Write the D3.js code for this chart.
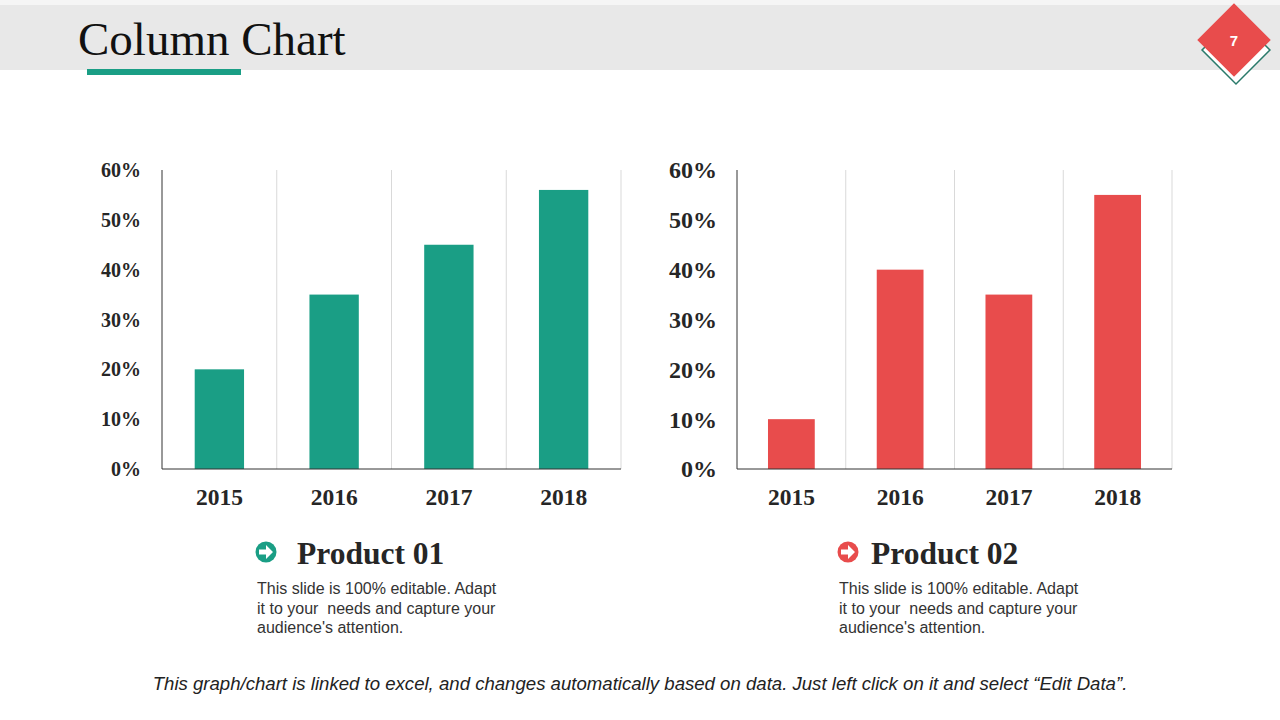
<!DOCTYPE html>
<html>
<head>
<meta charset="UTF-8">
<title>Column Chart</title>
<script src="https://d3js.org/d3.v7.min.js"></script>
<style>
  body { margin: 0; background: #fff; }
  svg { display: block; }
</style>
</head>
<body>
<div id="chart"></div>
<script>
// data
var years = ["2015", "2016", "2017", "2018"];
var product01 = [20, 35, 45, 56];
var product02 = [10, 40, 35, 55];
var yTicks = [0, 10, 20, 30, 40, 50, 60];
var productNames = ["Product 01", "Product 02"];
var descLines = ["This slide is 100% editable. Adapt", "it to your  needs and capture your", "audience's attention."];

var teal = "#1a9e85", red = "#e84c4c";
var serif = "'Liberation Serif', 'Times New Roman', serif";
var sans = "'Liberation Sans', Arial, sans-serif";

var svg = d3.select("#chart").append("svg").attr("width", 1280).attr("height", 720);

// header band
svg.append("rect").attr("x", 0).attr("y", 0).attr("width", 1280).attr("height", 5).attr("fill", "#f5f5f5");
svg.append("rect").attr("x", 0).attr("y", 5).attr("width", 1280).attr("height", 65).attr("fill", "#e8e8e8");
svg.append("text").attr("x", 78).attr("y", 55)
  .style("font-family", serif).style("font-size", "47px").attr("fill", "#111")
  .text("Column Chart");
svg.append("rect").attr("x", 87).attr("y", 69).attr("width", 154).attr("height", 6).attr("fill", teal);

// page number diamond
svg.append("rect").attr("x", -24).attr("y", -24).attr("width", 48).attr("height", 48)
  .attr("transform", "translate(1236,50) rotate(45)")
  .attr("fill", "#fff").attr("stroke", "#2a7a6a").attr("stroke-width", 1.5);
svg.append("rect").attr("x", -26).attr("y", -26).attr("width", 52).attr("height", 52)
  .attr("transform", "translate(1234,40) rotate(45)")
  .attr("fill", red);
svg.append("text").attr("x", 1234).attr("y", 46).attr("text-anchor", "middle")
  .style("font-family", sans).style("font-weight", "bold").style("font-size", "15px")
  .attr("fill", "#fff").text("7");

function drawColumns(values, color, left, right, tickX, tickSize) {
  var x = d3.scaleBand().domain(years).range([left, right]).paddingInner(0).paddingOuter(0);
  var y = d3.scaleLinear().domain([0, 60]).range([469, 170]);
  var g = svg.append("g");

  // vertical separators
  g.selectAll(".sep").data(years).enter().append("line")
    .attr("x1", function (d) { return x(d) + x.bandwidth(); })
    .attr("x2", function (d) { return x(d) + x.bandwidth(); })
    .attr("y1", y(60)).attr("y2", y(0))
    .attr("stroke", "#d9d9d9").attr("stroke-width", 1);

  var bw = x.bandwidth() * 0.43;
  g.selectAll(".bar").data(values).enter().append("rect")
    .attr("x", function (d, i) { return x(years[i]) + x.bandwidth() / 2 - bw / 2; })
    .attr("y", function (d) { return y(d); })
    .attr("width", bw)
    .attr("height", function (d) { return y(0) - y(d); })
    .attr("fill", color);

  // axis lines
  g.append("line").attr("x1", left).attr("x2", left).attr("y1", y(60)).attr("y2", y(0))
    .attr("stroke", "#333").attr("stroke-width", 1);
  g.append("line").attr("x1", left).attr("x2", right).attr("y1", y(0)).attr("y2", y(0))
    .attr("stroke", "#333").attr("stroke-width", 1);

  g.selectAll(".yt").data(yTicks).enter().append("text")
    .attr("x", tickX).attr("y", function (d) { return y(d); })
    .attr("dy", "0.35em").attr("text-anchor", "end")
    .style("font-family", serif).style("font-weight", "bold").style("font-size", tickSize + "px")
    .attr("fill", "#262626")
    .text(function (d) { return d + "%"; });

  g.selectAll(".xt").data(years).enter().append("text")
    .attr("x", function (d) { return x(d) + x.bandwidth() / 2; })
    .attr("y", 505).attr("text-anchor", "middle")
    .style("font-family", serif).style("font-weight", "bold").style("font-size", "23.5px")
    .attr("fill", "#262626")
    .text(function (d) { return d; });
}

drawColumns(product01, teal, 162, 621, 141, 20);
drawColumns(product02, red, 737, 1172, 717, 24);

function drawCaption(name, color, iconX, titleX, descX) {
  var g = svg.append("g");
  g.append("circle").attr("cx", iconX).attr("cy", 552).attr("r", 10.5).attr("fill", color);
  // white arrow
  g.append("path")
    .attr("d", "M" + (iconX - 7) + "," + 549.5 + " h7 v-4.5 l7,7 l-7,7 v-4.5 h-7 z")
    .attr("fill", "#fff");
  g.append("text").attr("x", titleX).attr("y", 564)
    .style("font-family", serif).style("font-weight", "bold").style("font-size", "31.5px")
    .attr("fill", "#262626").text(name);
  g.selectAll(".d").data(descLines).enter().append("text")
    .attr("x", descX).attr("y", function (d, i) { return 594 + i * 19.5; })
    .style("font-family", sans).style("font-size", "16px").attr("fill", "#333")
    .attr("xml:space", "preserve").style("white-space", "pre")
    .text(function (d) { return d; });
}

drawCaption(productNames[0], teal, 266, 297, 257);
drawCaption(productNames[1], red, 848, 871, 839);

svg.append("text").attr("x", 640).attr("y", 690).attr("text-anchor", "middle")
  .style("font-family", sans).style("font-style", "italic").style("font-size", "18.6px")
  .attr("fill", "#222")
  .text("This graph/chart is linked to excel, and changes automatically based on data. Just left click on it and select \u201cEdit Data\u201d.");
</script>
</body>
</html>
